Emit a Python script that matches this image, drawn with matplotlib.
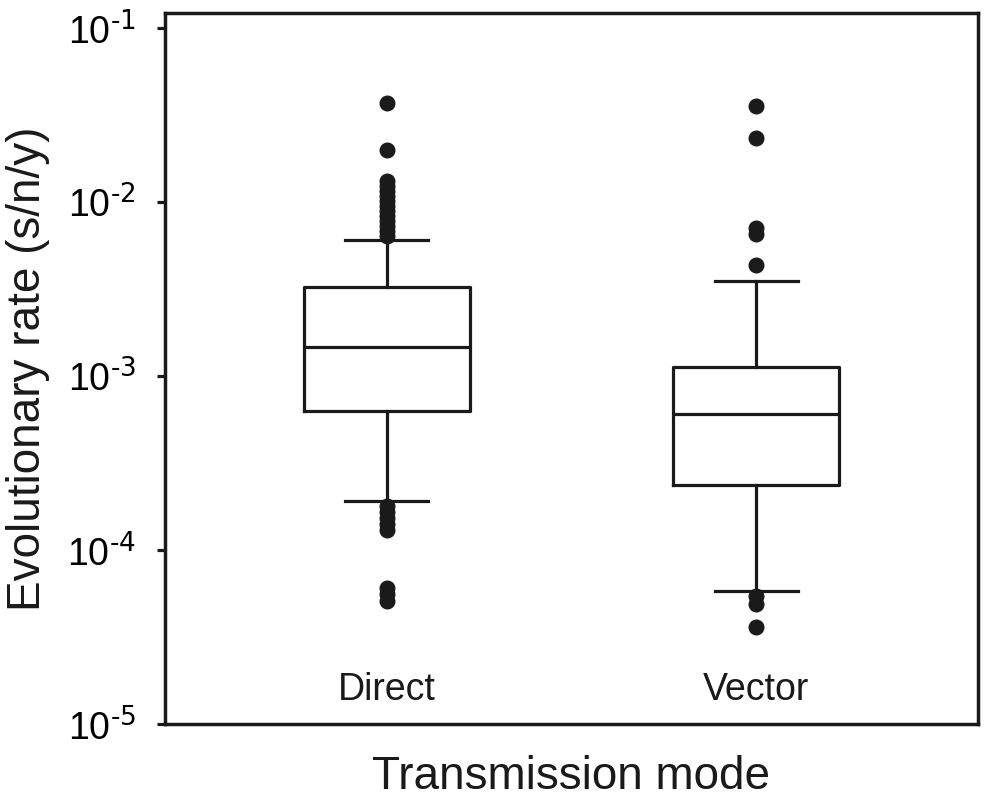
import matplotlib
matplotlib.use("Agg")
import matplotlib.pyplot as plt
from matplotlib.ticker import NullLocator

plt.rcParams['font.family'] = ['Liberation Sans', 'DejaVu Sans']
plt.rcParams['mathtext.default'] = 'regular'

categories = ["Direct", "Vector"]
q1 = [6.29e-4, 2.36e-4]
medians = [1.47e-3, 6.05e-4]
q3 = [3.25e-3, 1.13e-3]
whisker_low = [1.91e-4, 5.81e-5]
whisker_high = [6.05e-3, 3.52e-3]
fliers_direct = [0.0371, 0.0199, 0.0132, 0.01236, 0.01156, 0.01082, 0.01014,
                 0.00948, 0.00888, 0.00831, 0.00778, 0.00728, 0.00681, 0.00638,
                 1.79e-4, 1.65e-4, 1.53e-4, 1.41e-4, 1.30e-4,
                 6.05e-5, 5.59e-5, 5.09e-5]
fliers_vector = [0.0356, 0.0233, 0.00709, 0.00655, 0.00434,
                 5.44e-5, 4.90e-5, 3.60e-5]
fliers = [fliers_direct, fliers_vector]
ytick_values = [1e-5, 1e-4, 1e-3, 1e-2, 1e-1]
ytick_exponents = ["-5", "-4", "-3", "-2", "-1"]

stats = []
for i, c in enumerate(categories):
    stats.append(dict(label=c, q1=q1[i], med=medians[i], q3=q3[i],
                      whislo=whisker_low[i], whishi=whisker_high[i],
                      fliers=fliers[i]))

fig = plt.figure(figsize=(10.03, 8.0), dpi=100)
ax = fig.add_axes([0.1645, 0.095, 0.8105, 0.889])

lw = 2.3
col = '#1a1a1a'
ax.bxp(stats, positions=[1, 2], widths=0.45, capwidths=0.225,
       boxprops=dict(color=col, linewidth=lw),
       medianprops=dict(color=col, linewidth=lw),
       whiskerprops=dict(color=col, linewidth=lw),
       capprops=dict(color=col, linewidth=lw),
       flierprops=dict(marker='o', markerfacecolor=col, markeredgecolor=col,
                       markersize=10.5, linestyle='none'))

ax.set_yscale('log')
ax.set_ylim(1e-5, 0.122)
ax.set_xlim(0.4, 2.6)
ax.set_yticks(ytick_values)
ax.yaxis.set_minor_locator(NullLocator())
ax.set_yticklabels(['10$^{\\text{%s}}$' % e for e in ytick_exponents])
ax.set_xticks([])

ax.tick_params(axis='y', direction='out', length=6, width=2.3, labelsize=27,
               pad=15, color=col)
for s in ax.spines.values():
    s.set_linewidth(2.5)
    s.set_color(col)

for i, c in enumerate(categories):
    ax.text(i + 1, 0.048, c, transform=ax.get_xaxis_transform(),
            ha='center', va='center', fontsize=27, color=col)

ax.set_xlabel("Transmission mode", fontsize=33, labelpad=22, color=col)
ax.set_ylabel("Evolutionary rate (s/n/y)", fontsize=33, labelpad=12, color=col)

fig.savefig("out.png", dpi=100)
